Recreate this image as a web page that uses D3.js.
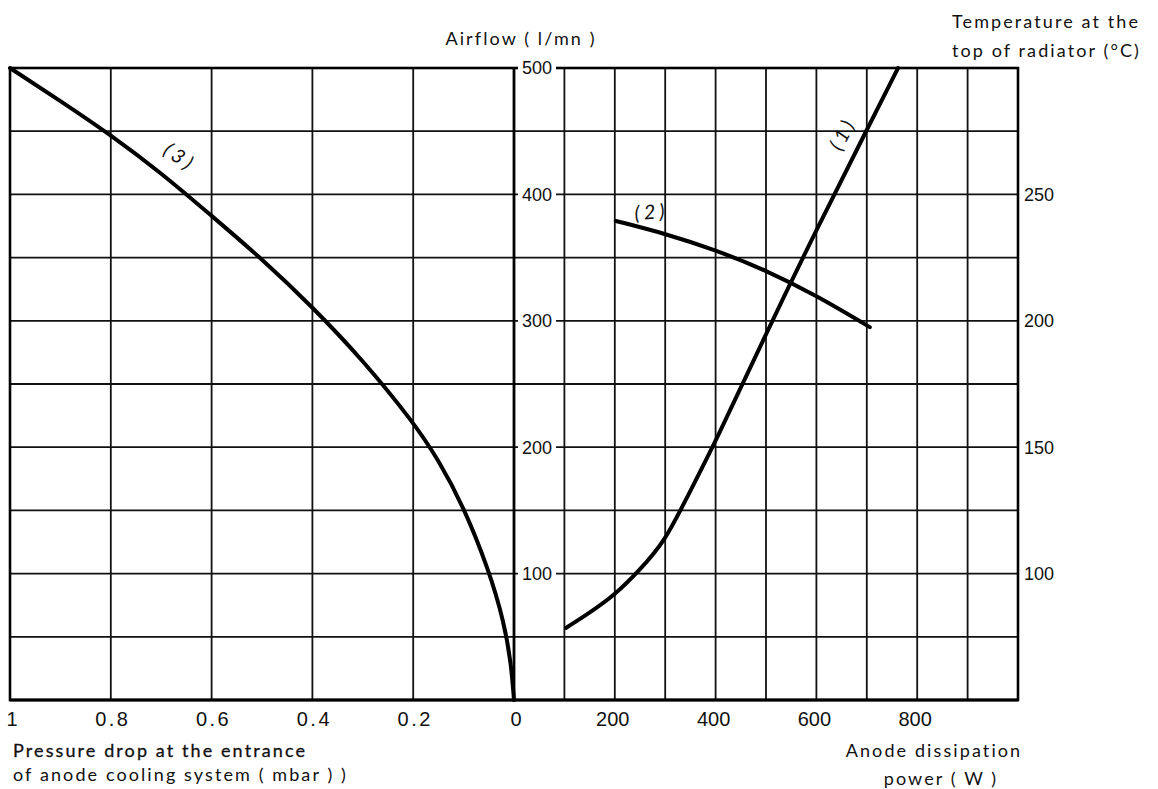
<!DOCTYPE html>
<html>
<head>
<meta charset="utf-8">
<script src="https://cdn.jsdelivr.net/npm/d3@7"></script>
<style>
  body { margin: 0; background: #fff; }
  svg { display: block; }
  .title { font-family: Lato, "DejaVu Sans", sans-serif; font-size: 18px; letter-spacing: 2.1px; fill: #111; }
  .num { font-family: "Liberation Sans", sans-serif; fill: #111; }
  .grid line { stroke: #111; stroke-width: 1.8; }
  .curve { fill: none; stroke: #000; stroke-width: 4; stroke-linecap: round; }
  .tag { font-family: Lato, sans-serif; font-size: 20px; font-style: italic; fill: #111; letter-spacing: 4px; }
</style>
</head>
<body>
<svg id="chart"></svg>
<script>
// ticks
const pressureTicks = [1, 0.8, 0.6, 0.4, 0.2, 0];
const powerGrid = [100, 200, 300, 400, 500, 600, 700, 800, 900];
const powerLabels = [200, 400, 600, 800];
const airflowGrid = [50, 100, 150, 200, 250, 300, 350, 400, 450];
const airflowLabels = [100, 200, 300, 400, 500];
const tempLabels = [100, 150, 200, 250];

// curve (1): airflow vs anode dissipation power
const curve1 = [[103, 57], [150, 69], [200, 83], [250, 103], [300, 126], [340, 158], [400, 204],
  [500, 290], [600, 372], [700, 451], [762, 500]];
// curve (2): temperature vs anode dissipation power
const curve2 = [[202, 239.5], [300, 234.5], [400, 228], [500, 220], [600, 210], [706, 197.5]];
// curve (3): airflow vs pressure drop
const curve3 = [[1.0, 500], [0.9, 474], [0.8, 447], [0.7, 417], [0.6, 383], [0.5, 349], [0.4, 311],
  [0.3, 269], [0.2, 220], [0.15, 190], [0.1, 153], [0.05, 103], [0.02, 62], [0.006, 30], [0, 0]];

const svgWidth = 1158, svgHeight = 789;
const plotLeft = 10, plotMid = 514, plotRight = 1018, plotTop = 68, plotBottom = 700;

const svg = d3.select('#chart').attr('width', svgWidth).attr('height', svgHeight);

const xP = d3.scaleLinear().domain([1, 0]).range([plotLeft, plotMid]);
const xW = d3.scaleLinear().domain([0, 1000]).range([plotMid, plotRight]);
const yA = d3.scaleLinear().domain([0, 500]).range([plotBottom, plotTop]);
const yT = d3.scaleLinear().domain([50, 300]).range([plotBottom, plotTop]);

// grid
const grid = svg.append('g').attr('class', 'grid');
grid.selectAll('.vp').data(pressureTicks.slice(1, -1)).enter().append('line')
  .attr('x1', d => xP(d)).attr('x2', d => xP(d)).attr('y1', plotTop).attr('y2', plotBottom);
grid.selectAll('.vw').data(powerGrid).enter().append('line')
  .attr('x1', d => xW(d)).attr('x2', d => xW(d)).attr('y1', plotTop).attr('y2', plotBottom);
grid.selectAll('.h').data(airflowGrid).enter().append('line')
  .attr('x1', plotLeft).attr('x2', plotRight).attr('y1', d => yA(d)).attr('y2', d => yA(d));

// frame + centre axis
svg.append('rect').attr('x', plotLeft).attr('y', plotTop).attr('width', plotRight - plotLeft).attr('height', plotBottom - plotTop)
  .attr('fill', 'none').attr('stroke', '#000').attr('stroke-width', 2.6);
svg.append('line').attr('x1', plotMid).attr('x2', plotMid).attr('y1', plotTop).attr('y2', plotBottom)
  .attr('stroke', '#000').attr('stroke-width', 2.8);
svg.append('line').attr('x1', plotLeft).attr('x2', plotRight).attr('y1', plotBottom).attr('y2', plotBottom)
  .attr('stroke', '#000').attr('stroke-width', 3.2);

// curves
const line = d3.line().curve(d3.curveBasis);
svg.append('path').attr('class', 'curve')
  .attr('d', line(curve3.map(d => [xP(d[0]), yA(d[1])])));
svg.append('path').attr('class', 'curve')
  .attr('d', line(curve1.map(d => [xW(d[0]), yA(d[1])])));
svg.append('path').attr('class', 'curve')
  .attr('d', line(curve2.map(d => [xW(d[0]), yT(d[1])])));

// airflow labels on the centre axis
const aLab = svg.append('g');
aLab.selectAll('rect').data(airflowLabels).enter().append('rect')
  .attr('x', plotMid + 4).attr('y', d => yA(d) - 9).attr('width', 38).attr('height', 18).attr('fill', '#fff');
aLab.selectAll('text').data(airflowLabels).enter().append('text')
  .attr('class', 'num').attr('font-size', 18)
  .attr('x', plotMid + 23).attr('y', d => yA(d)).attr('dy', '0.36em')
  .attr('text-anchor', 'middle').text(d => d);

// temperature labels right
svg.selectAll('.tl').data(tempLabels).enter().append('text')
  .attr('class', 'num').attr('font-size', 18)
  .attr('x', plotRight + 6).attr('y', d => yT(d)).attr('dy', '0.36em').text(d => d);

// bottom labels
svg.selectAll('.pl').data(pressureTicks).enter().append('text')
  .attr('class', 'num').attr('font-size', 20).attr('letter-spacing', d => d === 1 || d === 0 ? 0 : 2.5)
  .attr('x', d => xP(d) + 2).attr('y', 726)
  .attr('text-anchor', 'middle').text(d => d === 1 ? '1' : d === 0 ? '0' : d.toFixed(1));
svg.selectAll('.wl').data(powerLabels).enter().append('text')
  .attr('class', 'num').attr('font-size', 20)
  .attr('x', d => xW(d) - 2).attr('y', 726)
  .attr('text-anchor', 'middle').text(d => d);

// titles
svg.append('text').attr('class', 'title').attr('x', 521).attr('y', 45).attr('text-anchor', 'middle').attr('letter-spacing', 3).text('Airflow ( l/mn )');
svg.append('text').attr('class', 'title').attr('x', 952).attr('y', 28).text('Temperature at the');
svg.append('text').attr('class', 'title').attr('x', 952).attr('y', 57).text('top of radiator (°C)');
svg.append('text').attr('class', 'title').attr('x', 13).attr('y', 757)
  .attr('stroke', '#111').attr('stroke-width', 0.3).attr('letter-spacing', 2.4).text('Pressure drop at the entrance');
svg.append('text').attr('class', 'title').attr('x', 13).attr('y', 781).attr('letter-spacing', 2.4).text('of anode cooling system ( mbar ) )');
svg.append('text').attr('class', 'title').attr('x', 934).attr('y', 757).attr('text-anchor', 'middle').attr('letter-spacing', 2.6).text('Anode dissipation');
svg.append('text').attr('class', 'title').attr('x', 941).attr('y', 785).attr('text-anchor', 'middle').attr('letter-spacing', 3).text('power ( W )');

// curve tags
svg.append('text').attr('class', 'tag').attr('text-anchor', 'middle')
  .attr('transform', 'translate(176,163) rotate(35)').text('(3)');
svg.append('text').attr('class', 'tag').attr('text-anchor', 'middle')
  .attr('transform', 'translate(652,219) rotate(-4)').text('(2)');
svg.append('text').attr('class', 'tag').attr('text-anchor', 'middle')
  .attr('transform', 'translate(849,137) rotate(-62)').text('(1)');
</script>
</body>
</html>
